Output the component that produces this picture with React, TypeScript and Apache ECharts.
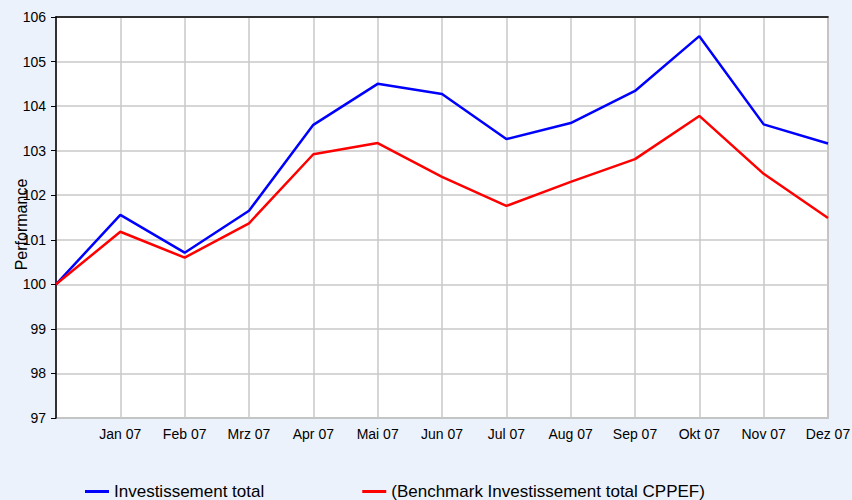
import React, { useEffect, useRef } from "react";
import * as echarts from "echarts";

const categories = ["", "Jan 07", "Feb 07", "Mrz 07", "Apr 07", "Mai 07", "Jun 07", "Jul 07", "Aug 07", "Sep 07", "Okt 07", "Nov 07", "Dez 07"];
const investissement = [100, 101.56, 100.71, 101.65, 103.58, 104.5, 104.27, 103.26, 103.62, 104.34, 105.57, 103.59, 103.16];
const benchmark = [100, 101.18, 100.6, 101.37, 102.92, 103.17, 102.41, 101.76, 102.3, 102.81, 103.78, 102.48, 101.49];
const seriesNames = ["Investissement total", "(Benchmark Investissement total CPPEF)"];

export default function App() {
  const ref = useRef<HTMLDivElement>(null);
  useEffect(() => {
    const chart = echarts.init(ref.current!, null, { renderer: "svg" });
    const font = "Liberation Sans";
    chart.setOption({
      animation: false,
      backgroundColor: "#ecf2fb",
      textStyle: { fontFamily: font },
      grid: {
        left: 56, top: 17, right: 24, bottom: 82,
        outerBoundsMode: "none",
        containLabel: false,
        show: true, backgroundColor: "#ffffff", borderColor: "#a6a6a6", borderWidth: 1.5,
      },
      legend: {
        bottom: 0, left: 85, padding: [0, 0, 0, 0], itemGap: 98, itemWidth: 24, itemHeight: 3,
        icon: "rect",
        textStyle: { fontSize: 17, color: "#000", fontFamily: font },
        data: seriesNames,
      },
      xAxis: [
        {
          type: "category", data: categories, boundaryGap: false,
          axisLine: { show: false },
          axisTick: { show: false },
          axisLabel: { color: "#000", fontSize: 14, margin: 9, interval: 0, fontFamily: font },
          splitLine: { show: true, lineStyle: { color: "#c8c8c8", width: 1.5 } },
        },
        {
          type: "category", data: categories, boundaryGap: false, position: "top",
          axisLine: { show: true, lineStyle: { color: "#000", width: 1.5 } },
          axisTick: { show: false }, axisLabel: { show: false }, splitLine: { show: false },
        },
      ],
      yAxis: {
        type: "value", min: 97, max: 106, interval: 1,
        name: "Performance", nameLocation: "middle", nameGap: 27, nameRotate: 90,
        nameMoveOverlap: false,
        nameTextStyle: { color: "#000", fontSize: 16, fontFamily: font, padding: [0, 0, 0, -14] },
        axisLine: { show: true, lineStyle: { color: "#000", width: 1.5 } },
        axisTick: { show: true, length: 5, lineStyle: { color: "#000" } },
        axisLabel: { color: "#000", fontSize: 14, margin: 10, fontFamily: font },
        splitLine: { show: true, lineStyle: { color: "#c8c8c8", width: 1.5 } },
      },
      series: [
        {
          name: seriesNames[0], type: "line", data: investissement, symbol: "none",
          lineStyle: { color: "#0000ff", width: 2.5 }, itemStyle: { color: "#0000ff" },
        },
        {
          name: seriesNames[1], type: "line", data: benchmark, symbol: "none",
          lineStyle: { color: "#ff0000", width: 2.5 }, itemStyle: { color: "#ff0000" },
        },
      ],
    });
    return () => chart.dispose();
  }, []);
  return <div ref={ref} style={{ width: 852, height: 500, position: "absolute", left: 0, top: 0 }} />;
}
